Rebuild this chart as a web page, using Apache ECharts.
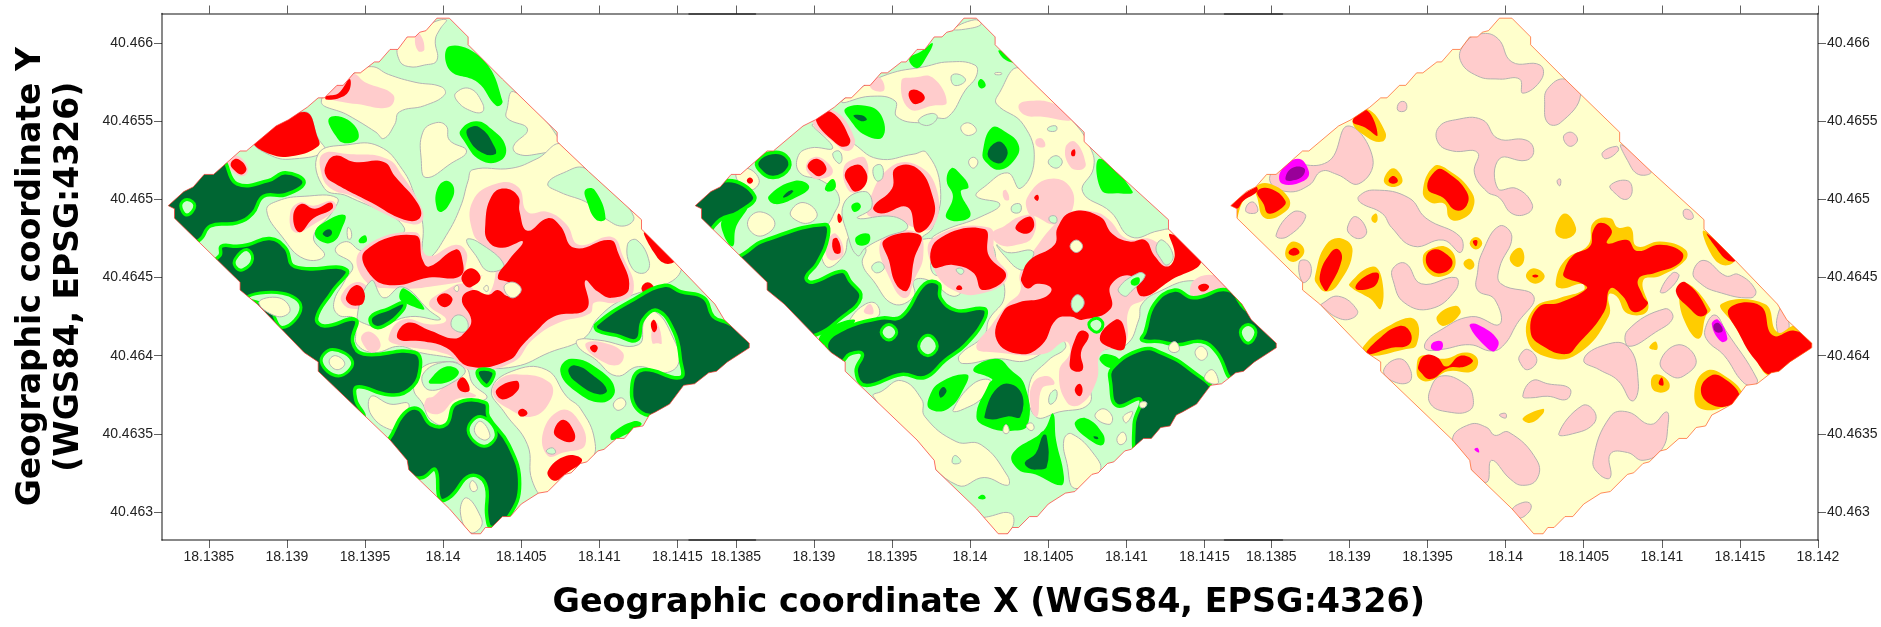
<!DOCTYPE html>
<html><head><meta charset="utf-8">
<style>html,body{margin:0;padding:0;background:#fff}#c{width:1881px;height:627px}</style>
<script src="https://cdn.jsdelivr.net/npm/echarts@6/dist/echarts.min.js"></script>
</head><body><div id="c"></div>
<script>
// Vertices are in 1e-5 degree offsets from this origin (WGS84)
const LON0 = 18.138, LAT0 = 40.463, UNIT = 1e-5;
const lonMin = 18.1382, lonMax = 18.142, latMin = 40.46282, latMax = 40.46619;
const lonTicks = [18.1385, 18.139, 18.1395, 18.14, 18.1405, 18.141, 18.1415];
const lonTicksLast = [18.1385, 18.139, 18.1395, 18.14, 18.1405, 18.141, 18.1415, 18.142];
const latTicks = [40.463, 40.4635, 40.464, 40.4645, 40.465, 40.4655, 40.466];
const xTitle = 'Geographic coordinate X (WGS84, EPSG:4326)';
const yTitle = 'Geographic coordinate Y\n(WGS84, EPSG:4326)';

// survey outline shared by the three maps
const outline = [24,196,34,205,40,208,47,216,53,216,70,231,74,231,93,247,101,251,113,259,120,265,124,265,132,273,136,273,143,281,147,281,156,288,159,288,166,296,171,296,177,304,182,304,185,307,189,308,196,316,204,316,216,304,216,299,238,277,273,243,273,237,293,218,327,187,327,181,347,161,374,133,380,123,396,108,396,105,382,96,375,90,370,89,361,82,354,81,345,69,336,64,332,62,328,55,322,54,316,47,311,47,303,40,299,39,292,32,288,31,282,25,278,24,267,13,261,12,250,5,243,-3,238,-3,231,-10,227,-10,224,-14,218,-14,204,2,178,27,177,33,166,46,120,90,120,96,111,102,81,133,70,142,70,147,28,188,28,194];

// each entry: class band, then lon,lat,lon,lat...
// bands: 0 pale green, 1 pale yellow, 2 pink, 3 red, 4 green, 5 dark green, 6 pale island in dark, 7 outlined pink, 8 orange, 9 magenta, 10 purple
const mapA = [
[1,202,315,191,312,172,299,172,289,178,285,188,286,196,289,195,302,198,309],
[1,154,285,142,280,122,263,139,254,157,243,162,239,169,248,172,256,188,260,201,267,199,272,182,275,165,280],
[1,208,268,217,271,225,262,225,256,217,257,209,263],
[1,187,243,195,249,202,247,204,238,215,231,205,223,189,214,186,225],
[1,245,269,265,251,274,239,277,234,260,229,248,229,245,234,254,245,241,252,241,258],
[1,79,238,111,256,120,239,124,231,105,226,90,228],
[1,216,212,219,219,244,220,260,226,277,235,325,193,335,174,352,160,347,148,317,137,300,125,290,111,268,102,246,93,219,93,217,96,203,99,185,102,172,106,156,102,145,107,144,116,143,124,133,126,130,134,137,148,142,158,131,167,138,173,148,167,157,170,175,182,139,202,124,207,120,229,139,235,159,234,174,219,182,202,187,184,187,164,191,162,202,177,211,195],
[1,87,193,94,199,111,202,132,201,129,192,117,176,124,164,111,162,97,176],
[1,231,78,244,90,266,91,279,74,288,66,297,46,294,32,266,10,257,20,254,43,239,64],
[1,185,91,199,96,214,93,219,82,228,73,214,69,202,56,192,59,187,69,181,79],
[1,154,74,166,69,178,69,172,56,168,52,154,62],
[1,286,110,299,110,325,107,329,123,336,128,347,112,351,96,342,89,325,93,311,87,297,98,287,105],
[1,309,69,314,73,317,69,312,65],
[2,182,304,185,306,188,296,184,295],
[2,142,280,150,275,168,267,165,259,145,261,128,264,124,266],
[2,62,224,68,228,75,220,72,215,65,218],
[2,123,229,139,229,164,226,174,215,185,197,187,187,181,184,162,191,142,202,128,207,122,217],
[2,102,191,108,198,117,196,129,199,131,194,117,184,105,179],
[2,147,167,182,179,190,164,208,171,215,166,215,153,225,151,198,145,168,143,150,148],
[2,135,139,144,147,152,143,152,132,142,130,136,133],
[2,219,199,234,210,248,208,254,192,267,192,279,184,287,171,308,176,315,164,322,142,311,134,297,134,294,127,274,121,257,110,245,96,217,91,202,101,171,107,165,111,174,123,192,120,202,123,191,133,202,142,214,146,227,137,234,161,227,169,219,179],
[2,148,113,154,115,160,107,155,102,149,107],
[2,189,72,194,74,208,86,215,78,221,74,208,72,198,63,189,65],
[2,235,84,248,88,268,83,269,72,257,61,242,66,232,75],
[2,264,51,275,65,285,61,291,43,277,38,267,36],
[2,291,107,299,109,315,102,312,94,299,98],
[2,334,108,334,118,337,121,340,108,337,108],
[0,215,174,222,173,239,158,229,154,221,164],
[0,145,125,154,148,162,137,174,144,191,129,198,123,179,125,159,119,151,120],
[0,267,210,277,217,291,220,308,205,322,189,316,183,305,187,294,197,274,205],
[0,318,171,324,174,332,160,329,153,321,156],
[0,187,88,202,96,214,91,208,84,191,78],
[0,205,121,209,126,215,123,215,116,208,116],
[0,266,39,270,41,272,38,269,37],
[3,79,238,111,256,120,239,120,234,105,228,89,229],
[3,125,266,133,268,140,277,140,270,134,265,125,264],
[3,64,223,68,226,74,220,71,216,66,219],
[3,125,222,131,228,143,224,162,224,169,215,184,197,185,188,175,187,154,198,131,210,125,215],
[3,104,189,109,197,118,194,128,198,129,194,117,188,108,179],
[3,150,167,182,177,187,161,191,157,208,168,212,163,211,151,191,150,168,145,154,151],
[3,212,151,218,156,224,150,218,144,214,145],
[3,327,143,331,147,335,143,331,139],
[3,196,136,201,140,206,136,201,131],
[3,138,138,144,145,149,142,149,134,144,132,139,134],
[3,227,184,231,202,239,207,248,202,249,192,254,180,267,188,275,183,284,169,307,174,312,166,319,143,308,137,299,141,291,148,292,130,271,125,259,115,251,107,242,97,217,93,202,105,188,109,171,111,177,121,192,116,207,111,214,115,218,123,212,136,219,142,229,139,235,142,242,138,249,143,242,147,235,150,242,161,251,173,238,169,229,173],
[3,209,82,213,86,217,78,212,77],
[3,234,78,247,84,248,78,238,72],
[3,248,64,251,66,254,63,250,61],
[3,271,52,277,59,284,51,283,45,274,47],
[3,267,26,279,36,289,33,278,24,271,20],
[3,294,105,297,107,299,105,297,102],
[3,333,120,335,123,337,118,335,115],
[3,329,179,348,161,342,159,335,166],
[1,239,144,245,147,250,142,244,137],
[1,207,143,209,145,210,143,209,141],
[1,226,143,228,145,229,143,228,141],
[1,139,182,141,180,141,175,139,175],
[4,204,298,225,290,238,263,234,260,222,275,204,283],
[4,127,252,139,251,146,240,137,236,131,241],
[4,211,244,221,250,231,245,240,234,237,225,224,225,213,238],
[4,196,206,202,212,207,207,204,197,199,192,196,194],
[4,291,206,297,206,304,188,298,187,292,199],
[4,118,179,125,186,137,190,135,181,130,173,122,173],
[4,146,174,150,177,151,173,147,172],
[4,172,137,175,143,188,130,177,133],
[4,191,84,202,93,210,90,205,84,192,82],
[4,275,90,282,98,300,91,310,78,302,70,285,77],
[4,308,50,322,58,327,56,316,49,308,46],
[5,215,246,224,247,234,234,234,228,224,229,215,239],
[5,122,179,127,182,130,179,127,175,123,176],
[5,154,125,165,130,175,134,174,129,162,119,155,119],
[5,222,90,232,90,231,84,227,81],
[5,279,90,284,95,297,88,306,78,300,74,286,81],
[5,15,196,57,225,68,210,88,212,99,217,111,211,99,203,85,202,78,191,68,185,51,183,44,174,30,170],
[5,57,164,58,170,68,170,75,171,89,175,99,169,105,157,138,155,129,141,119,124,124,119,144,123,142,109,149,101,182,102,185,90,178,78,165,75,145,80,144,72,149,59,130,48,75,100,35,145],
[5,165,46,175,63,184,66,192,56,202,56,208,69,227,70,229,61,242,43,249,18,242,-3,231,-10,228,-3,227,18,217,23,205,10,198,8,195,27,187,22,179,23,155,36],
[5,298,120,322,136,342,145,352,141,367,137,373,125,382,121,405,107,352,60,345,58,342,60,325,65,321,82,328,91,352,86,352,97,348,115,337,129,328,123,324,110,311,113,299,116],
[6,32,196,36,200,41,196,36,190],
[6,67,162,74,168,78,162,72,155,67,157],
[6,74,137,97,140,109,131,97,118,88,131],
[1,82,134,95,137,102,129,94,125],
[6,122,96,129,104,142,96,133,87],
[1,127,96,131,100,137,95,132,91],
[6,216,52,224,61,234,50,226,42],
[1,220,52,224,58,230,49,226,46],
[1,211,0,215,9,224,-3,224,-10,217,-13],
[1,217,17,219,20,222,15,219,13]
];

const mapB = [
[1,189,309,203,315,207,312,197,309],
[1,147,280,171,285,186,288,203,286,204,279,197,270,186,253,176,252,169,249,153,253,152,263,136,266,118,262,126,269],
[1,232,284,265,251,277,233,279,220,272,205,290,192,303,176,321,180,329,180,348,160,365,141,343,148,321,141,310,133,308,123,300,107,283,102,277,84,276,69,257,64,242,61,238,82,250,97,261,105,258,110,237,97,217,98,195,95,193,100,209,113,212,123,222,138,217,159,214,171,204,179,176,175,183,180,207,189,219,197,204,202,209,208,224,217,232,207,241,225,234,248,217,261,218,267],
[1,99,248,123,237,141,226,164,229,172,230,181,207,176,182,169,175,176,174,176,153,191,151,196,144,189,138,174,148,164,148,164,138,151,133,138,148,131,159,133,169,123,176,119,164,108,157,105,176,112,189,116,202,105,212,91,217,90,228,98,233,112,233],
[1,50,215,57,220,65,212,59,206],
[1,58,187,66,192,75,185,68,177,60,179],
[1,85,192,93,198,102,191,97,185,88,187],
[1,123,123,133,133,140,133,141,125,125,120],
[1,143,77,156,84,169,72,171,61,191,45,207,43,224,23,224,17,209,22,192,17,166,41,138,74],
[1,212,-3,226,-1,227,-10,219,-15,207,-5],
[1,260,46,265,50,280,36,283,26,267,15,262,31],
[1,189,65,202,82,213,84,209,74,194,65],
[1,216,281,220,281,220,280,216,280],
[1,194,246,199,249,204,244,198,241],
[1,199,224,202,227,205,224,202,220],
[2,156,276,164,278,176,278,185,262,176,260,161,258],
[2,136,274,142,278,145,270,138,270],
[2,231,260,237,263,254,261,265,251,245,253,235,254],
[2,242,238,246,239,248,234,243,234],
[2,261,233,267,237,274,223,271,219,264,221],
[2,237,202,250,213,264,208,265,192,255,184,242,189,237,192],
[2,221,205,223,206,225,200,222,200],
[2,232,153,242,169,254,184,264,192,280,192,289,187,300,175,317,174,328,159,313,137,302,130,299,107,284,102,281,84,271,69,262,70,257,90,264,102,261,109,247,101,217,102,204,105,214,120,224,133,232,141],
[2,176,175,212,182,216,164,224,151,212,141,191,141,176,157],
[2,214,178,222,183,232,189,241,189,240,176,230,171,219,171],
[2,109,174,114,178,119,166,113,161,108,164],
[2,143,174,166,179,170,164,164,148,159,137,151,144],
[2,134,195,148,220,166,222,179,205,176,182,164,182,151,189,136,189],
[2,95,222,100,227,107,225,112,217,103,213,97,216],
[2,119,220,126,226,133,226,134,212,128,205,122,206],
[2,99,250,112,257,126,239,122,231,112,237],
[2,132,129,136,133,138,127,133,127],
[2,240,82,249,87,254,82,246,79,243,61,239,66],
[2,343,148,358,151,365,141,343,137],
[0,188,279,193,280,197,276,190,273],
[0,167,251,175,255,179,253,175,248,169,248],
[0,112,229,116,231,118,226,116,223],
[0,138,220,143,222,144,214,140,212],
[0,119,197,133,205,137,195,128,188,151,189,160,182,146,176,133,169,128,164,122,176],
[0,137,157,142,160,145,156,140,153],
[0,250,246,255,247,255,244,250,244],
[0,250,224,255,228,259,224,255,220],
[0,251,189,255,189,255,185,251,186],
[0,227,196,232,197,232,192,227,192],
[0,191,155,194,156,196,154,194,152],
[0,217,171,224,166,240,167,237,158,232,155,222,164],
[0,251,75,255,78,255,72,251,69],
[0,189,35,191,36,194,32,189,31],
[3,161,269,166,270,171,265,166,261,162,263],
[3,101,252,111,256,123,239,121,234,114,236],
[3,96,222,102,226,108,220,104,215,99,217],
[3,120,217,126,222,131,221,134,212,127,205,122,210],
[3,57,212,59,214,61,212,59,210],
[3,233,151,238,161,254,171,256,182,265,192,283,189,291,178,302,173,312,174,318,164,326,157,331,164,328,178,348,161,328,148,310,138,303,151,290,145,290,130,272,123,264,125,255,123,246,107,232,101,217,110,221,128,231,134,247,137,252,143,243,146,237,143,233,147],
[3,283,111,293,123,298,120,299,105,293,104],
[3,267,110,271,116,276,113,271,102,272,91,265,91,264,98],
[3,267,78,270,82,272,78,270,74],
[3,176,157,179,174,209,181,212,164,223,151,208,142,202,153,189,158],
[3,229,182,238,189,241,183,236,178],
[3,241,201,243,203,244,201,243,199],
[3,265,231,267,232,267,228,265,228],
[3,191,143,193,145,195,143,193,142],
[3,115,189,116,191,118,187,116,185],
[3,112,174,115,175,117,166,113,166],
[3,145,174,168,177,164,161,160,142,153,145,148,161],
[3,138,195,150,207,152,220,166,220,176,202,176,187,166,179,160,195,143,191],
[3,346,144,350,146,353,144,349,141],
[1,264,170,268,174,272,170,268,166],
[0,265,135,269,139,273,134,269,128,266,129],
[0,295,143,308,153,312,151,303,141,299,138],
[0,319,169,323,174,330,164,326,158,322,162],
[4,161,290,169,295,176,300,172,291,166,284],
[4,218,295,221,295,229,288,223,289],
[4,205,274,207,277,210,273,207,271],
[4,120,258,133,260,143,254,144,240,133,241,123,251],
[4,71,202,88,212,97,208,88,201,75,197],
[4,107,207,112,213,114,208,110,205],
[4,124,196,128,198,130,195,126,192],
[4,127,176,135,178,135,172,128,171],
[4,42,188,57,195,50,182,48,170,42,178],
[4,103,110,110,118,126,123,121,116,108,107],
[4,174,74,181,83,198,88,197,81,186,66,174,66],
[4,202,91,217,98,226,91,235,81,237,56,227,52,212,54,204,61,212,82,214,85],
[4,227,37,247,52,253,63,255,46,260,23,258,17,242,24,231,27],
[4,267,56,274,60,285,50,285,43,278,45],
[4,205,9,208,11,210,9,208,8],
[4,283,226,304,205,295,204,284,206],
[4,185,212,188,220,193,217,199,208,194,205,200,189,185,188,189,202],
[4,208,230,214,246,223,243,231,235,229,226,219,219,210,224],
[4,303,148,308,150,308,146,304,145],
[4,283,97,286,101,296,97,291,92],
[5,124,254,131,255,135,251,130,249],
[5,64,225,73,230,82,228,84,220,74,214,65,219],
[5,79,202,85,207,88,205,81,200],
[5,15,196,43,212,62,202,52,192,40,187,25,172],
[5,59,168,69,174,107,184,109,176,102,159,95,150,99,147,118,154,123,148,130,137,116,123,103,114,80,110,40,150],
[5,108,107,121,118,143,124,156,125,171,146,180,146,181,137,191,129,209,130,209,123,197,107,184,97,171,86,156,88,133,81,127,90,131,101,123,101,117,96],
[5,179,77,183,81,186,77,181,72],
[5,208,61,219,82,233,78,233,60,224,60,214,58],
[5,234,32,241,38,246,50,250,49,250,28,243,26,237,27],
[5,278,49,282,49,283,46,279,46],
[5,210,229,217,238,224,234,224,226,217,222],
[5,312,115,318,133,331,142,343,137,365,142,376,130,405,107,385,92,369,84,358,102,348,109,333,107,321,109,310,110],
[5,291,92,310,104,322,102,341,91,355,75,328,50,308,36,305,56,309,72,294,68,290,82],
[6,143,115,148,120,153,115,148,110],
[6,167,106,173,113,179,106,173,100],
[6,373,115,378,120,383,115,378,108],
[6,276,120,281,124,285,120,281,115],
[1,327,105,331,109,334,104,330,102],
[1,344,102,348,106,352,101,348,97],
[1,350,86,355,91,359,83,355,82],
[1,309,70,313,70,312,67,309,67],
[1,221,52,223,56,225,52,223,50],
[1,236,55,239,57,241,54,239,52],
[1,280,61,285,66,291,61,289,56],
[1,298,61,304,64,300,57],
[1,294,47,298,51,300,46,296,43]
];

const mapC = [
[7,171,289,174,300,184,306,195,303,204,288,222,286,223,277,211,268,209,277,196,277,182,279],
[7,227,271,238,277,248,267,235,249,227,249,225,261],
[7,132,262,136,262,136,257,131,257],
[7,157,246,168,251,185,251,195,239,213,238,218,231,213,225,196,226,195,207,207,207,217,197,214,191,204,191,196,201,188,205,180,217,182,230,166,231,157,236],
[7,237,240,242,243,246,238,241,234],
[7,262,230,271,234,272,231,264,226],
[7,274,235,293,218,285,216,278,225],
[7,86,224,99,247,115,226,106,210,92,216,82,218,74,209,60,205,49,212,56,222],
[7,233,212,235,213,235,209,234,209],
[7,267,209,278,212,281,205,277,200,270,204],
[7,106,202,116,206,138,201,149,188,171,176,171,166,160,174,141,170,127,182,121,191,107,198],
[7,35,197,39,198,41,192,34,192],
[7,53,177,64,192,72,189,60,176],
[7,99,183,104,189,111,180,107,175,100,178],
[7,314,193,318,193,320,188,315,188],
[7,149,109,156,115,178,125,196,120,193,136,182,142,182,153,185,166,196,183,204,176,196,156,197,146,218,138,207,120,199,107,191,103,177,107,159,104,149,104],
[7,128,156,136,159,146,146,168,150,168,142,152,130,135,134,128,148],
[7,68,160,74,160,75,151,70,147],
[7,82,133,93,138,105,129,102,124,93,124,82,132],
[7,122,91,132,98,139,91,138,83,127,84],
[7,152,79,159,87,174,82,179,74,177,65,163,64,152,69],
[7,209,100,214,104,220,97,214,91,209,96],
[7,211,74,217,84,227,82,241,79,239,72,227,74,216,73],
[7,250,97,261,106,278,106,285,82,281,71,272,84,260,91],
[7,278,116,302,130,307,124,296,115,279,106],
[7,299,96,311,107,322,97,314,87,306,87],
[7,299,141,307,153,311,151,303,141],
[7,320,153,327,161,341,151,349,152,360,142,357,137,335,141,325,146],
[7,328,118,334,126,341,116,361,85,359,81,352,83,340,100,329,110],
[7,374,125,378,133,381,123,381,116,377,111,374,116],
[7,234,50,249,68,257,64,256,56,243,50],
[7,256,33,267,61,278,64,293,56,303,64,304,56,300,40,288,33,278,38,267,37,267,22,260,24],
[7,166,46,177,56,188,54,193,49,202,51,220,33,220,21,211,17,203,21,191,33,188,19,178,27],
[7,204,1,211,6,216,5,215,0,208,-4],
[7,196,62,200,63,200,60],
[8,40,208,49,210,61,201,60,193,46,188,41,201],
[8,28,188,32,199,39,204,39,207,29,196,28,192],
[8,102,250,111,258,123,243,121,237,111,240],
[8,122,212,128,220,134,212,128,208],
[8,147,205,154,221,163,219,178,205,179,194,171,187,164,188,161,197,152,198],
[8,232,182,238,191,245,182,242,176,234,176],
[8,59,167,64,173,71,168,67,161,61,161],
[8,78,151,85,171,95,175,102,167,93,146,85,141,79,146],
[8,100,146,115,157,121,148,120,130,114,136,109,139,102,143],
[8,147,163,154,169,163,169,168,160,163,152,152,152],
[8,114,188,117,191,118,187,116,185],
[8,177,172,181,176,185,172,181,168],
[8,173,159,177,162,180,158,177,155],
[8,203,164,209,169,212,163,209,157,204,159],
[8,213,151,218,156,225,151,219,146],
[8,156,125,168,132,171,127,160,119],
[8,109,106,127,120,142,123,143,107,135,104,111,100],
[8,143,92,146,100,161,98,174,102,182,98,179,90,163,90,152,84,145,85],
[8,232,146,238,161,253,171,256,185,267,188,272,182,280,182,284,170,299,173,315,168,315,161,299,151,288,148,291,129,278,127,271,138,266,139,266,125,246,101,227,99,214,110,218,130,235,137,250,142,249,146,236,143],
[8,292,105,296,109,297,104],
[8,293,83,296,88,304,84,304,78,296,77],
[8,211,60,224,66,224,63,216,57],
[8,311,139,315,147,331,130,328,125,324,111,316,119],
[8,338,133,366,133,374,115,386,119,396,107,371,87,357,103,346,120],
[8,327,180,346,161,339,158,331,166],
[8,321,78,328,90,339,88,352,75,346,69,325,66],
[3,24,196,40,208,41,205,32,199,28,194],
[3,41,205,49,207,59,199,56,194,48,191,45,197],
[3,102,250,111,257,118,241,110,246],
[3,125,212,128,215,131,212,128,210],
[3,150,207,156,219,163,217,175,205,175,196,168,193,160,201],
[3,61,166,65,169,68,166,64,164],
[3,81,151,88,166,93,168,95,161,86,142,84,142],
[3,104,143,109,150,118,153,118,147,113,143],
[3,149,163,154,168,162,165,166,159,160,153,152,155],
[3,179,173,181,174,182,173,181,170],
[3,217,151,219,152,221,151,219,150],
[3,111,101,118,110,132,119,139,115,138,107,127,105],
[3,144,93,148,100,156,99,162,93,171,100,179,97,174,93,163,92,152,85,145,90],
[3,237,153,243,164,254,170,256,180,261,185,268,180,265,172,278,174,284,167,299,171,313,166,311,159,296,153,285,149,288,138,291,133,282,128,275,138,267,143,263,128,246,107,239,101,224,106,216,115,221,131,235,134,252,143,249,146,238,150],
[3,298,82,300,86,301,81],
[3,309,141,315,147,329,129,325,125,318,130],
[3,343,130,363,132,371,113,385,116,397,107,371,88,360,97,349,115],
[3,329,178,347,161,342,161,334,170],
[3,325,78,331,87,339,86,350,74,343,68,331,69],
[9,56,218,67,226,74,218,71,212,57,210],
[10,59,213,63,220,71,220,70,215,63,212],
[9,332,120,336,123,342,111,338,109],
[10,333,119,336,121,339,116,335,115],
[9,177,119,182,120,195,110,193,103,188,105],
[9,153,108,159,109,159,104,153,104],
[9,180,40,182,41,183,38]
];

const LINE = '#b4b4b4';
const bands = {
  0:{fill:'#ccffcc',stroke:LINE,lineWidth:1},
  1:{fill:'#ffffcc',stroke:LINE,lineWidth:1},
  2:{fill:'#ffcccc'},
  3:{fill:'#ff0000'},
  4:{fill:'#00ff00'},
  5:{fill:'#006633',stroke:'#00ff00',lineWidth:3.5},
  6:{fill:'#ccffcc',stroke:'#00ff00',lineWidth:3},
  7:{fill:'#ffcccc',stroke:'#b4b0b0',lineWidth:1},
  8:{fill:'#ffcc00'},
  9:{fill:'#ff00ff'},
  10:{fill:'#990099'}
};
const toGeo = (a,i) => [LON0 + a[i]*UNIT, LAT0 + a[i+1]*UNIT];
function pts(api, a, start){ const r=[]; for(let i=start;i<a.length;i+=2) r.push(api.coord(toGeo(a,i))); return r; }

function mapSeries(shapes, baseFill, edge, xi, yi){
  const list = [[-1].concat(outline)].concat(shapes).concat([[-2].concat(outline)]);
  return {
    type:'custom', xAxisIndex:xi, yAxisIndex:yi, animation:false, silent:true, clip:false,
    data:list.map(s=>toGeo(s,1)), encode:{x:0,y:1},
    renderItem(params, api){
      const s=list[params.dataIndex], points=pts(api,s,1);
      if(s[0]===-1) return {type:'polygon',shape:{points},style:{fill:baseFill}};
      if(s[0]===-2) return {type:'polygon',shape:{points},style:{fill:'none',stroke:edge,lineWidth:0.7}};
      return {type:'polygon',shape:{points,smooth:0.45},style:Object.assign({},bands[s[0]]),
        clipPath:{type:'polygon',shape:{points:pts(api,outline,0)}}};
    }
  };
}

const AXIS = 'rgba(0,0,0,0.62)';
const fmt = v => String(v);
const labelBase = {color:'#222',fontFamily:'"Liberation Sans",Arial,sans-serif',fontSize:14,hideOverlap:false,formatter:fmt};
function xAxes(gi, ticks, name){
  const common = {type:'value',gridIndex:gi,min:lonMin,max:lonMax,splitLine:{show:false},
    axisLine:{show:true,onZero:false,lineStyle:{color:AXIS,width:1.5}}};
  const titleFont = {fontFamily:'"DejaVu Sans",Verdana,sans-serif',fontWeight:'bold',fontSize:33.4,color:'#000',padding:[0,0,0,6]};
  return [
    Object.assign({},common,{position:'bottom',
      axisTick:{show:true,length:8,customValues:ticks,lineStyle:{color:AXIS}},
      axisLabel:Object.assign({},labelBase,{show:true,margin:10,customValues:ticks}),
      name:name||'',nameLocation:'middle',nameGap:47,nameMoveOverlap:false,nameTextStyle:titleFont}),
    Object.assign({},common,{position:'top',
      axisTick:{show:true,length:8,customValues:ticks,lineStyle:{color:AXIS}},
      axisLabel:{show:false}})
  ];
}
const yCommon = {type:'value',min:latMin,max:latMax,splitLine:{show:false}};
const yTick = {show:true,length:8,customValues:latTicks,lineStyle:{color:AXIS}};
const yLabel = Object.assign({},labelBase,{show:true,margin:9,customValues:latTicks});

const option = {
  backgroundColor:'#fff', animation:false,
  grid:[
    {left:162,top:13.5,width:593.5,height:526.5,outerBoundsMode:'none'},
    {left:689,top:13.5,width:593.5,height:526.5,outerBoundsMode:'none'},
    {left:1224.5,top:13.5,width:593.5,height:526.5,outerBoundsMode:'none'}
  ],
  xAxis:[].concat(xAxes(0,lonTicks),xAxes(1,lonTicks,xTitle),xAxes(2,lonTicksLast)),
  yAxis:[
    Object.assign({},yCommon,{gridIndex:0,position:'left',axisLine:{show:true,onZero:false,lineStyle:{color:AXIS,width:1.5}},axisTick:yTick,axisLabel:yLabel,
      name:yTitle,nameLocation:'middle',nameGap:74,nameRotate:90,nameMoveOverlap:false,
      nameTextStyle:{fontFamily:'"DejaVu Sans",Verdana,sans-serif',fontWeight:'bold',fontSize:33,lineHeight:38,color:'#000',align:'center'}}),
    Object.assign({},yCommon,{gridIndex:1,show:false}),
    Object.assign({},yCommon,{gridIndex:2,position:'right',axisLine:{show:true,onZero:false,lineStyle:{color:AXIS,width:1.5}},axisTick:yTick,axisLabel:yLabel})
  ],
  series:[
    mapSeries(mapA,'#ccffcc','#ff3030',0,0),
    mapSeries(mapB,'#ccffcc','#ff3030',2,1),
    mapSeries(mapC,'#ffffcc','#ff5a20',4,2)
  ]
};
echarts.init(document.getElementById('c'),null,{renderer:'canvas'}).setOption(option);
</script></body></html>
